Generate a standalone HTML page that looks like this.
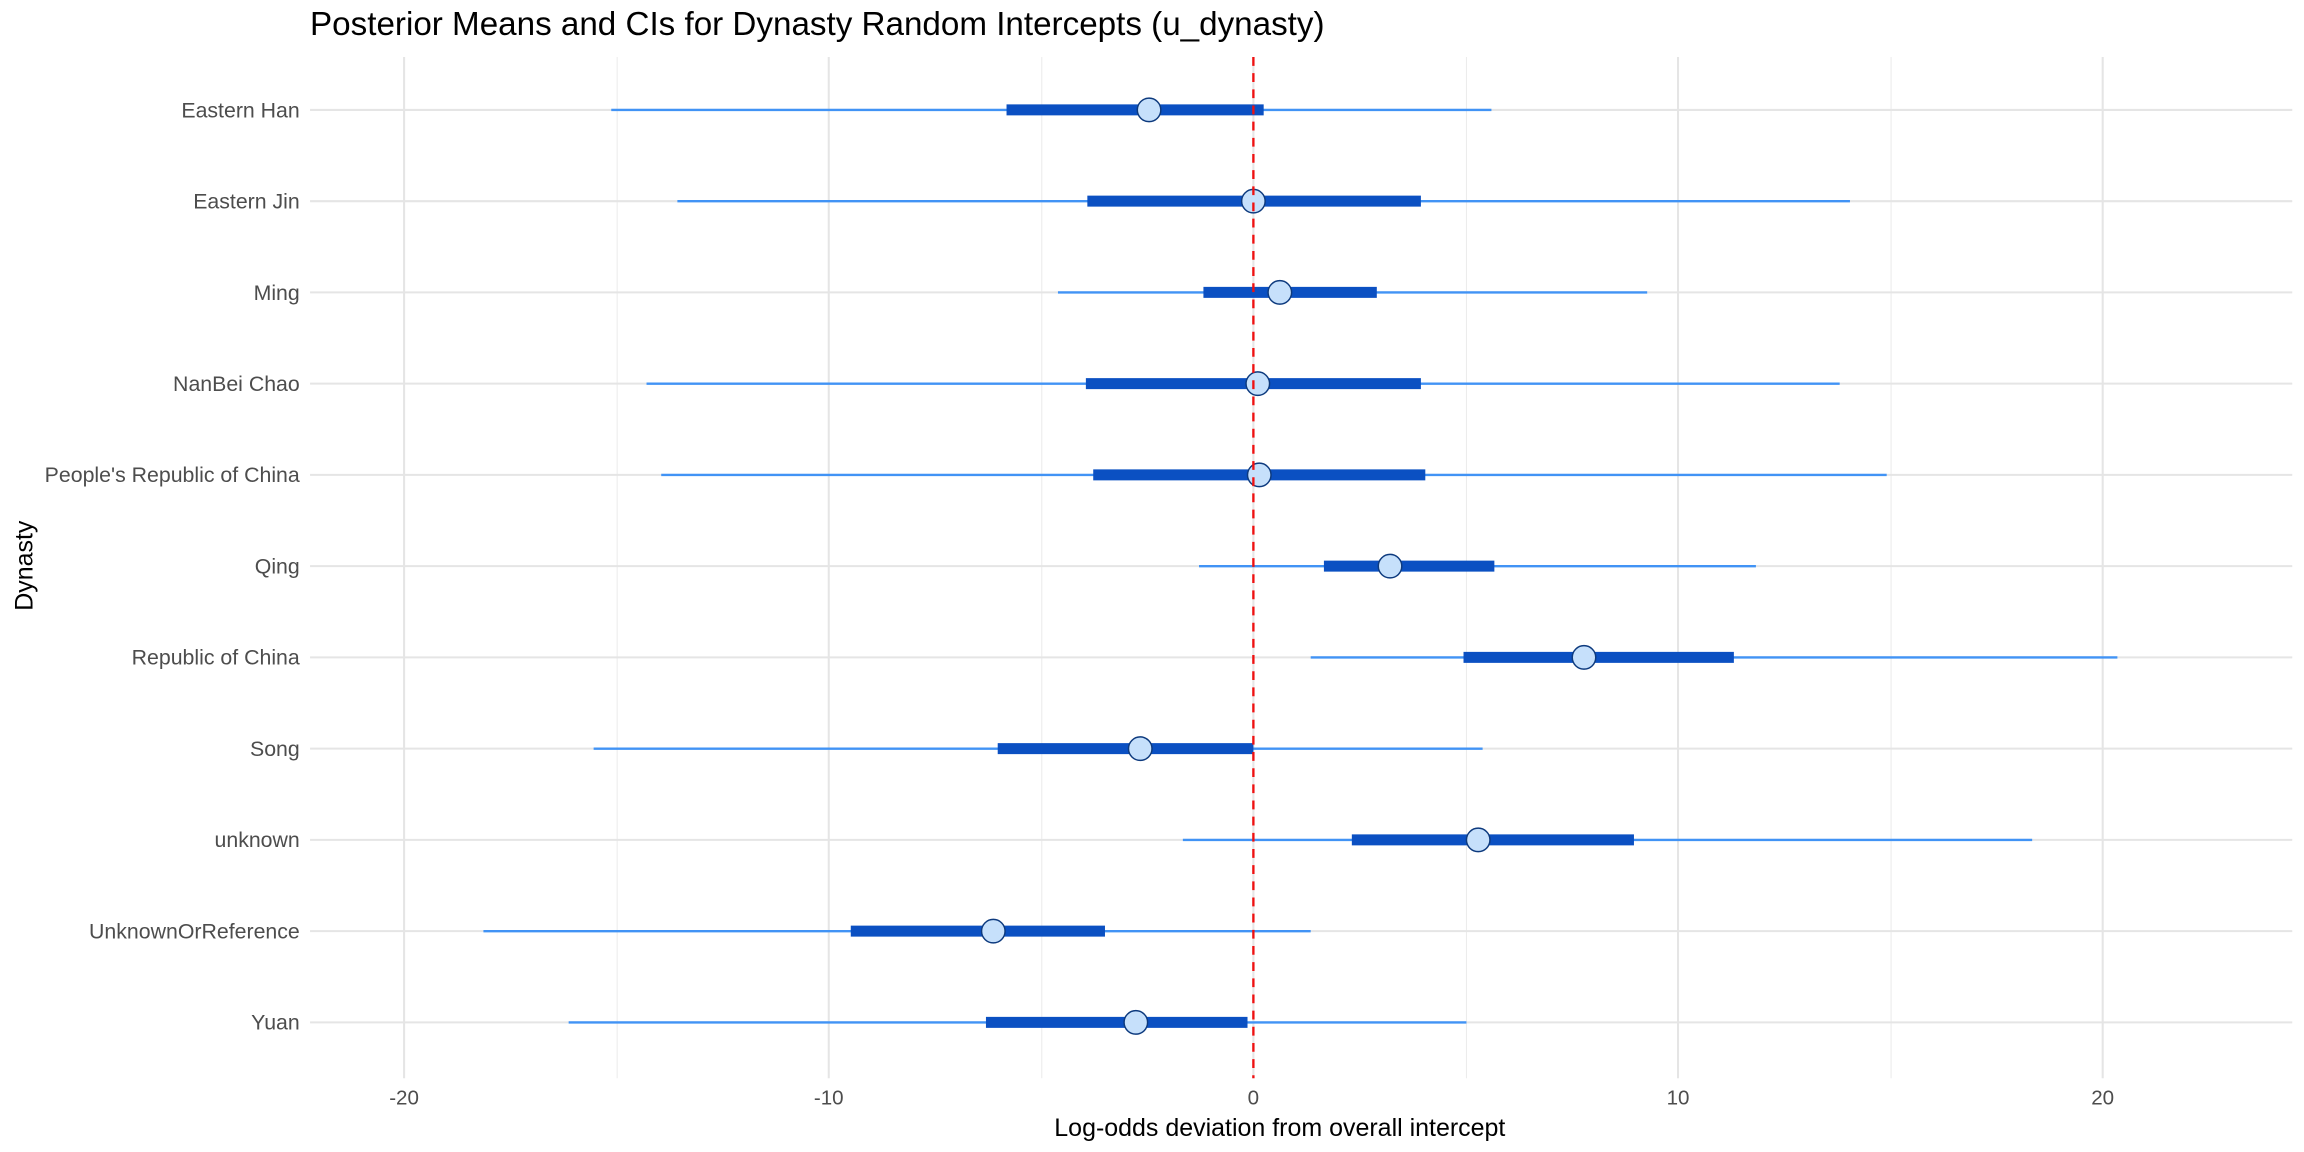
<!DOCTYPE html>
<html><head><meta charset="utf-8"><style>html,body{margin:0;padding:0;background:#fff}svg{display:block}</style></head><body>
<svg width="2304" height="1152" viewBox="0 0 1568 784" xmlns="http://www.w3.org/2000/svg" font-family="Liberation Sans, Arial, sans-serif">
<rect width="1568" height="784" fill="#fff"/>
<g transform="translate(0,0.8)">
<g stroke="#ebebeb" stroke-width="0.7">
<line x1="420" y1="38" x2="420" y2="733"/><line x1="709" y1="38" x2="709" y2="733"/><line x1="998" y1="38" x2="998" y2="733"/><line x1="1287" y1="38" x2="1287" y2="733"/>
</g>
<g stroke="#e5e5e5" stroke-width="1.4">
<line x1="275" y1="38" x2="275" y2="733"/><line x1="564" y1="38" x2="564" y2="733"/><line x1="853" y1="38" x2="853" y2="733"/><line x1="1142" y1="38" x2="1142" y2="733"/><line x1="1431" y1="38" x2="1431" y2="733"/>
<line x1="211" y1="74" x2="1560" y2="74"/><line x1="211" y1="136.1" x2="1560" y2="136.1"/><line x1="211" y1="198.2" x2="1560" y2="198.2"/><line x1="211" y1="260.3" x2="1560" y2="260.3"/><line x1="211" y1="322.4" x2="1560" y2="322.4"/><line x1="211" y1="384.5" x2="1560" y2="384.5"/><line x1="211" y1="446.6" x2="1560" y2="446.6"/><line x1="211" y1="508.7" x2="1560" y2="508.7"/><line x1="211" y1="570.8" x2="1560" y2="570.8"/><line x1="211" y1="632.9" x2="1560" y2="632.9"/><line x1="211" y1="695" x2="1560" y2="695"/>
</g>
<g stroke="#4193f5" stroke-width="1.6">
<line x1="416" y1="74" x2="1015" y2="74"/><line x1="461" y1="136.1" x2="1259" y2="136.1"/><line x1="720" y1="198.2" x2="1121" y2="198.2"/><line x1="440" y1="260.3" x2="1252" y2="260.3"/><line x1="450" y1="322.4" x2="1284" y2="322.4"/><line x1="816" y1="384.5" x2="1195" y2="384.5"/><line x1="892" y1="446.6" x2="1441" y2="446.6"/><line x1="404" y1="508.7" x2="1009" y2="508.7"/><line x1="805" y1="570.8" x2="1383" y2="570.8"/><line x1="329" y1="632.9" x2="892" y2="632.9"/><line x1="387" y1="695" x2="998" y2="695"/>
</g>
<g stroke="#0b50c2" stroke-width="7.5">
<line x1="685" y1="74" x2="860" y2="74"/><line x1="740" y1="136.1" x2="967" y2="136.1"/><line x1="819" y1="198.2" x2="937" y2="198.2"/><line x1="739" y1="260.3" x2="967" y2="260.3"/><line x1="744" y1="322.4" x2="970" y2="322.4"/><line x1="901" y1="384.5" x2="1017" y2="384.5"/><line x1="996" y1="446.6" x2="1180" y2="446.6"/><line x1="679" y1="508.7" x2="853" y2="508.7"/><line x1="920" y1="570.8" x2="1112" y2="570.8"/><line x1="579" y1="632.9" x2="752" y2="632.9"/><line x1="671" y1="695" x2="849" y2="695"/>
</g>
<g fill="#c6e0fb" stroke="#0d3a7e" stroke-width="1">
<circle cx="782" cy="74" r="8"/><circle cx="853" cy="136.1" r="8"/><circle cx="871" cy="198.2" r="8"/><circle cx="856" cy="260.3" r="8"/><circle cx="857" cy="322.4" r="8"/><circle cx="946" cy="384.5" r="8"/><circle cx="1078" cy="446.6" r="8"/><circle cx="776" cy="508.7" r="8"/><circle cx="1006" cy="570.8" r="8"/><circle cx="676" cy="632.9" r="8"/><circle cx="773" cy="695" r="8"/>
</g>
<line x1="853" y1="38" x2="853" y2="733" stroke="#ee1111" stroke-width="1.6" stroke-dasharray="6,5"/>
<g font-size="14.5" fill="#4d4d4d" text-anchor="end">
<text x="204" y="79">Eastern Han</text><text x="204" y="141.1">Eastern Jin</text><text x="204" y="203.2">Ming</text><text x="204" y="265.3">NanBei Chao</text><text x="204" y="327.4">People's Republic of China</text><text x="204" y="389.5">Qing</text><text x="204" y="451.6">Republic of China</text><text x="204" y="513.7">Song</text><text x="204" y="575.8">unknown</text><text x="204" y="637.9">UnknownOrReference</text><text x="204" y="700">Yuan</text>
</g>
<g font-size="14" fill="#4d4d4d" text-anchor="middle">
<text x="275" y="751">-20</text><text x="564" y="751">-10</text><text x="853" y="751">0</text><text x="1142" y="751">10</text><text x="1431" y="751">20</text>
</g>
</g>
<text x="871" y="773" font-size="17" text-anchor="middle" fill="#000">Log-odds deviation from overall intercept</text>
<text transform="translate(22,385) rotate(-90)" font-size="17" text-anchor="middle" fill="#000">Dynasty</text>
<text x="211" y="24" font-size="22.6" fill="#000">Posterior Means and CIs for Dynasty Random Intercepts (u_dynasty)</text>
</svg>
</body></html>
